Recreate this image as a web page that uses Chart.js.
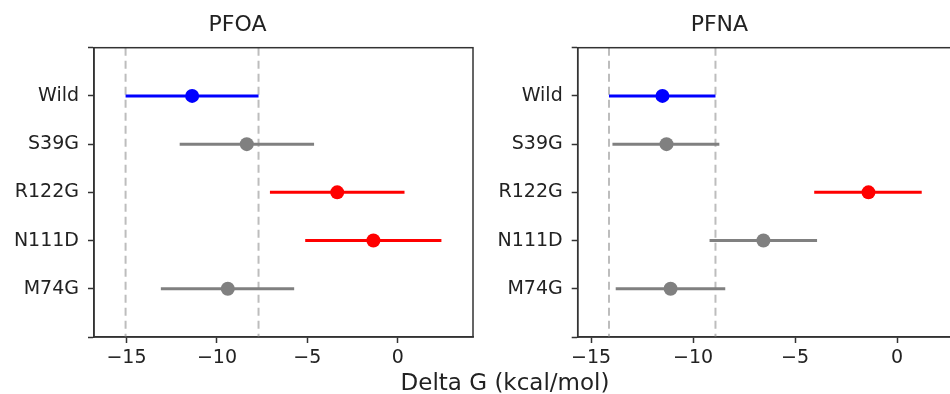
<!DOCTYPE html>
<html><head><meta charset="utf-8">
<script src="https://cdn.jsdelivr.net/npm/chart.js@4/dist/chart.umd.min.js"></script>
<style>
html,body{margin:0;padding:0;background:#fff;overflow:hidden;width:950px;height:394px;}
#wrap{position:relative;width:950px;height:394px;overflow:hidden;}
#c1{position:absolute;left:0;top:0;}
#c2{position:absolute;left:480px;top:0;}
#xlabel{position:absolute;left:0;width:1010px;text-align:center;top:369px;font-family:'DejaVu Sans';font-size:23px;line-height:26px;color:#222;white-space:nowrap;}
</style></head>
<body><div id="wrap">
<canvas id="c1" width="480" height="394"></canvas>
<canvas id="c2" width="480" height="394"></canvas>
<div id="xlabel">Delta G (kcal/mol)</div>
</div>
<script>
const categories = ['Wild','S39G','R122G','N111D','M74G'];
const pfoaMean = [-11.37, -8.35, -3.35, -1.35, -9.40];
const pfoaLow  = [-15.05, -12.06, -7.07, -5.12, -13.10];
const pfoaHigh = [-7.70, -4.63, 0.37, 2.41, -5.73];
const pfoaColors = ['blue','gray','red','red','gray'];
const pfoaRefLines = [-15.05, -7.70];
const pfnaMean = [-11.50, -11.30, -1.40, -6.55, -11.10];
const pfnaLow  = [-14.12, -13.95, -4.06, -9.19, -13.79];
const pfnaHigh = [-8.90, -8.71, 1.21, -3.92, -8.42];
const pfnaColors = ['blue','gray','red','gray','gray'];
const pfnaRefLines = [-14.12, -8.90];
const xTicks = [-15, -10, -5, 0];
const yTickPositions = [-1, 0, 1, 2, 3, 4, 5];

const palette = {blue:'#0000ff', gray:'#808080', red:'#ff0000'};
const FONT = "'DejaVu Sans', sans-serif";
const TEXT = '#222222';
const SPINE = '#333333';

const boxPlugin = {
  id:'box',
  afterDraw(chart){
    const a = chart.chartArea, ctx = chart.ctx;
    ctx.save();
    ctx.strokeStyle = SPINE; ctx.lineWidth = 1.5;
    ctx.strokeRect(a.left, a.top, a.right - a.left, a.bottom - a.top);
    ctx.restore();
  }
};

function makeChart(id, title, mean, low, high, colors, refs, yWidth, padRight){
  const lo = Math.min(...low), hi = Math.max(...high), span = hi - lo;
  const datasets = [];
  datasets.push({
    data: mean.map((m,i)=>({x:m, y:i})),
    pointRadius: 7, pointHoverRadius: 7, pointBorderWidth: 0,
    pointBackgroundColor: colors.map(c=>palette[c]),
    pointBorderColor: colors.map(c=>palette[c]),
    showLine: false, order: 0
  });
  categories.forEach((c,i)=>{
    datasets.push({
      data: [{x:low[i], y:i},{x:high[i], y:i}],
      showLine: true, borderColor: palette[colors[i]], borderWidth: 3,
      pointRadius: 0, pointHoverRadius: 0, fill: false, order: 1
    });
  });
  refs.forEach(r=>{
    datasets.push({
      data: [{x:r, y:-1},{x:r, y:5}],
      showLine: true, borderColor: '#bdbdbd', borderWidth: 2, borderDash: [8,5],
      pointRadius: 0, pointHoverRadius: 0, fill: false, order: 2
    });
  });
  return new Chart(document.getElementById(id), {
    type: 'scatter',
    data: {datasets},
    options: {
      responsive: false, animation: false,
      layout: {padding: {left:0, right:padRight, top:0, bottom:0}},
      plugins: {
        legend: {display:false}, tooltip: {enabled:false},
        title: {display:true, text:title, color:TEXT,
          font:{family:FONT, size:22, weight:'normal'}, padding:{top:12, bottom:9.3}}
      },
      scales: {
        x: {
          type:'linear', min: lo - 0.1*span, max: hi + 0.1*span,
          afterBuildTicks: s => { s.ticks = xTicks.map(v=>({value:v})); },
          afterFit: s => { s.height = 57; },
          ticks: {callback: v => String(v).replace('-', '\u2212'), color:TEXT,
            font:{family:FONT, size:19}, padding:4, maxRotation:0, autoSkip:false},
          grid: {drawOnChartArea:false, drawTicks:true, tickLength:6, tickWidth:1.5, tickColor:SPINE},
          border: {display:true, color:SPINE, width:1.5}
        },
        y: {
          type:'linear', reverse:true, min:-1, max:5,
          afterBuildTicks: s => { s.ticks = yTickPositions.map(v=>({value:v})); },
          afterFit: s => { s.width = yWidth; },
          ticks: {callback: v => (categories[v] !== undefined ? categories[v] : ''), color:TEXT,
            font:{family:FONT, size:19}, padding:9, autoSkip:false},
          grid: {drawOnChartArea:false, drawTicks:true, tickLength:6, tickWidth:1.5, tickColor:SPINE},
          border: {display:true, color:SPINE, width:1.5}
        }
      }
    },
    plugins: [boxPlugin]
  });
}

makeChart('c1', 'PFOA', pfoaMean, pfoaLow, pfoaHigh, pfoaColors, pfoaRefLines, 94, 5);
makeChart('c2', 'PFNA', pfnaMean, pfnaLow, pfnaHigh, pfnaColors, pfnaRefLines, 97.7, 1.3);
</script>
</body></html>
